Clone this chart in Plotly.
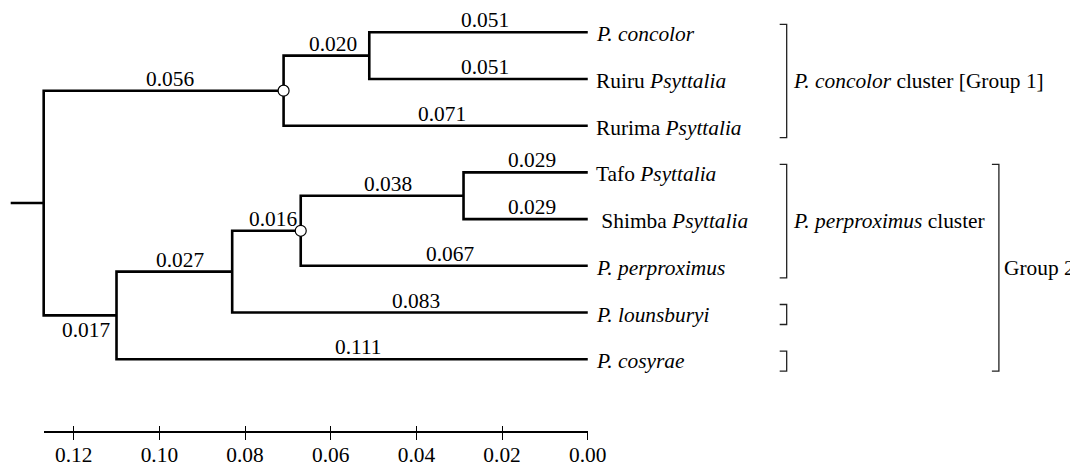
import plotly.graph_objects as go

# ---------------- data ----------------
leaf_labels = ["<i>P. concolor</i>", "Ruiru <i>Psyttalia</i>", "Rurima <i>Psyttalia</i>",
               "Tafo <i>Psyttalia</i>", " Shimba <i>Psyttalia</i>", "<i>P. perproximus</i>",
               "<i>P. lounsburyi</i>", "<i>P. cosyrae</i>"]
leaf_branch = [0.051, 0.051, 0.071, 0.029, 0.029, 0.067, 0.083, 0.111]

node_names = ["A", "B", "C", "D", "E", "F", "root"]
node_children = [[0, 1], ["A", 2], [3, 4], ["C", 5], ["D", 6], ["E", 7], ["B", "F"]]
node_branch = [0.020, 0.056, 0.038, 0.016, 0.027, 0.017, None]
marked_nodes = ["B", "D"]

scale_ticks = [0.12, 0.10, 0.08, 0.06, 0.04, 0.02, 0.00]
scale_ticktext = ["0.12", "0.10", "0.08", "0.06", "0.04", "0.02", "0.00"]

bracket_first = [0, 3, 6, 7, 3]
bracket_last = [2, 5, 6, 7, 7]
bracket_col = [0, 0, 0, 0, 1]
bracket_text = ["<i>P. concolor</i> cluster [Group 1]", "<i>P. perproximus</i> cluster", "", "", "Group 2"]

# ---------------- style / layout constants ----------------
W, H = 1092, 464
SX, BX = 0.983, 7.0   # horizontal page mapping compensation
OFFY = 8              # page body margin (vertical)

def hx(px):           # horizontal target pixel -> figure pixel
    return (px - BX) / SX

def hd(d):            # horizontal pixel distance -> figure distance
    return d / SX

X0_PX, ROOT_PX = hx(587.0), hx(42.7)
LEAF0_PX, LEAF_STEP_PX = 32.3 - OFFY, 46.7
AXIS_PX = 431.7 - OFFY
STUB_PX = hd(33)
FONT = "Liberation Serif, Times New Roman, serif"
FS = 21.4
label_below = {"F"}
bracket_x_px = [hx(786), hx(998.3)]
bracket_label_dx = [hd(4), hd(3.5)]
bracket_tick_px = hd(7)
bracket_pad_top_px, bracket_pad_bot_px = 8, 12

# ---------------- tree geometry ----------------
idx = {n: i for i, n in enumerate(node_names)}

def blen(c):
    return leaf_branch[c] if isinstance(c, int) else node_branch[idx[c]]

height, ypos = {}, {}
def compute(c):
    if isinstance(c, int):
        return 0.0, float(c)
    if c in height:
        return height[c], ypos[c]
    ch = node_children[idx[c]]
    h0, y0 = compute(ch[0])
    h1, y1 = compute(ch[1])
    height[c] = h0 + blen(ch[0])
    ypos[c] = (y0 + y1) / 2
    return height[c], ypos[c]

compute("root")
root_h = height["root"]
scale = (X0_PX - ROOT_PX) / root_h

xs, ys = [], []
annotations = []
for n, ch in zip(node_names, node_children):
    hn = height[n]
    (ha, ya), (hb, yb) = compute(ch[0]), compute(ch[1])
    xs += [ha, hn, hn, hb, None]
    ys += [ya, ya, yb, yb, None]
    for c in ch:
        hc, yc = compute(c)
        below = (not isinstance(c, int)) and c in label_below
        annotations.append(dict(x=(hn + hc) / 2, y=yc, xref="x", yref="y", text=f"{blen(c):.3f}",
                                showarrow=False, xanchor="center", yanchor="middle",
                                xshift=hd(6), yshift=-15 if below else 12,
                                font=dict(family=FONT, size=FS, color="black")))
# root stub
stub = STUB_PX / scale
xs += [root_h, root_h + stub, None]
ys += [ypos["root"], ypos["root"], None]

fig = go.Figure()
fig.add_trace(go.Scatter(x=[None], y=[None], xaxis="x2", yaxis="y", hoverinfo="skip"))
fig.add_trace(go.Scatter(x=[None], y=[None], xaxis="x3", yaxis="y", hoverinfo="skip"))
fig.add_trace(go.Scatter(x=xs, y=ys, mode="lines", line=dict(color="black", width=2.6),
                         hoverinfo="skip"))
fig.add_trace(go.Scatter(x=[height[n] for n in marked_nodes], y=[ypos[n] for n in marked_nodes],
                         mode="markers", marker=dict(symbol="circle", size=11, color="white",
                                                     line=dict(color="black", width=1.2)),
                         hoverinfo="skip"))

for i, lab in enumerate(leaf_labels):
    annotations.append(dict(x=0, y=i, xref="x", yref="y", text=lab, showarrow=False,
                            xanchor="left", yanchor="middle", xshift=hd(6), yshift=-2,
                            font=dict(family=FONT, size=FS, color="black")))

shapes = []
for f, l, col, txt in zip(bracket_first, bracket_last, bracket_col, bracket_text):
    bx = bracket_x_px[col] / W
    bl = (bracket_x_px[col] - bracket_tick_px) / W
    yt = f - bracket_pad_top_px / LEAF_STEP_PX
    yb = l + bracket_pad_bot_px / LEAF_STEP_PX
    shapes.append(dict(type="path", xref="paper", yref="y",
                       path=f"M {bl} {yt} L {bx} {yt} L {bx} {yb} L {bl} {yb}",
                       line=dict(color="#222222", width=1.3)))
    if txt:
        annotations.append(dict(x=(bracket_x_px[col] + bracket_label_dx[col]) / W, y=(yt + yb) / 2,
                                xref="paper", yref="y",
                                text=txt, showarrow=False, xanchor="left", yanchor="middle",
                                font=dict(family=FONT, size=FS, color="black")))

xr = [X0_PX / scale, -(W - X0_PX) / scale]
yr = [(H - LEAF0_PX) / LEAF_STEP_PX, -LEAF0_PX / LEAF_STEP_PX]
axis_pos = 1 - AXIS_PX / H
common_x2 = dict(domain=[ROOT_PX / W, X0_PX / W], range=[root_h, 0], anchor="free",
                 position=axis_pos, tickvals=scale_ticks, ticktext=scale_ticktext,
                 tickcolor="black", tickwidth=1.3, showgrid=False, zeroline=False, side="bottom")

fig.update_layout(
    width=W, height=H, margin=dict(l=0, r=0, t=0, b=0),
    paper_bgcolor="white", plot_bgcolor="rgba(0,0,0,0)", showlegend=False,
    xaxis=dict(range=xr, visible=False, domain=[0, 1]),
    yaxis=dict(range=yr, visible=False, domain=[0, 1]),
    xaxis2=dict(**common_x2, showline=True, linecolor="black", linewidth=1.5, ticks="inside",
                ticklen=5, ticklabelstandoff=4, tickfont=dict(family=FONT, size=FS, color="black")),
    xaxis3=dict(**common_x2, showline=False, ticks="outside", ticklen=7,
                showticklabels=False),
    annotations=annotations, shapes=shapes,
)
fig.write_html("out.html")
